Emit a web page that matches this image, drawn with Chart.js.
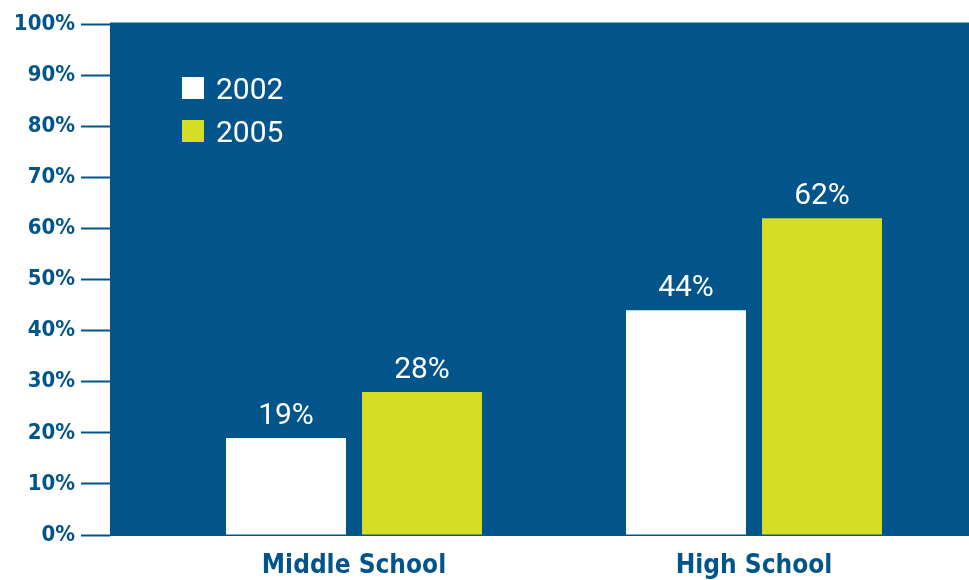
<!DOCTYPE html>
<html>
<head>
<meta charset="utf-8">
<script src="https://cdn.jsdelivr.net/npm/chart.js@4.4.1/dist/chart.umd.min.js"></script>
<style>
    html, body { margin: 0; padding: 0; background: #fff; }
    #wrap { width: 969px; height: 580px; position: relative; }
</style>
</head>
<body>
<div id="wrap"><canvas id="chart"></canvas></div>
<script>
// ------------------------
// DATA
// ------------------------

const categories = ["Middle School", "High School"];
const seriesLabels = ["2002", "2005"];
const values2002 = [19, 44];
const values2005 = [28, 62];
const yTickValues = [0, 10, 20, 30, 40, 50, 60, 70, 80, 90, 100];

const BLUE = "#02558a";
const LIME = "#d4de25";
const NARROW = "'Liberation Sans Narrow', 'DejaVu Sans Condensed', 'Roboto', sans-serif";
const PLAIN = "'Roboto', 'Liberation Sans', sans-serif";

// ------------------------
// PLUGINS
// ------------------------

// dark panel behind the plot
const panelPlugin = {
    id: "panel",
    beforeDraw(chart) {
        const { ctx, chartArea: a } = chart;
        ctx.save();
        ctx.fillStyle = BLUE;
        ctx.fillRect(a.left, a.top - 1.5, chart.width - a.left, a.bottom - a.top + 2.5);
        ctx.restore();
    }
};

// value labels above bars
const valueLabels = {
    id: "valueLabels",
    afterDatasetsDraw(chart) {
        const ctx = chart.ctx;
        ctx.save();
        ctx.fillStyle = "#ffffff";
        ctx.font = "30px " + PLAIN;
        ctx.textAlign = "center";
        ctx.textBaseline = "alphabetic";
        chart.data.datasets.forEach((ds, di) => {
            chart.getDatasetMeta(di).data.forEach((bar, i) => {
                ctx.fillText(ds.data[i].y + "%", bar.x, bar.y - 14);
            });
        });
        ctx.restore();
    }
};

// legend drawn inside the panel
const innerLegend = {
    id: "innerLegend",
    afterDraw(chart) {
        const { ctx, chartArea: a } = chart;
        ctx.save();
        ctx.font = "30px " + PLAIN;
        ctx.textBaseline = "alphabetic";
        ctx.textAlign = "left";
        chart.data.datasets.forEach((ds, i) => {
            const x = a.left + 72;
            const y = a.top + 53 + i * 43;
            ctx.fillStyle = ds.backgroundColor;
            ctx.fillRect(x, y, 22, 22);
            ctx.fillStyle = "#ffffff";
            ctx.fillText(ds.label, x + 34, y + 22);
        });
        ctx.restore();
    }
};

// ------------------------
// CHART
// ------------------------

const toPoints = vals => vals.map((v, i) => ({ x: i, y: v }));

new Chart(document.getElementById("chart"), {
    type: "bar",
    data: {
        datasets: [
            { label: seriesLabels[0], data: toPoints(values2002), backgroundColor: "#ffffff" },
            { label: seriesLabels[1], data: toPoints(values2005), backgroundColor: LIME }
        ]
    },
    options: {
        responsive: true,
        maintainAspectRatio: false,
        animation: false,
        layout: { padding: { top: 24, right: 0, bottom: 0, left: 0 } },
        categoryPercentage: 0.68,
        barPercentage: 0.882,
        plugins: {
            legend: { display: false },
            tooltip: { enabled: false }
        },
        scales: {
            x: {
                type: "linear",
                offset: false,
                min: -0.61,
                max: 1.5375,
                afterBuildTicks: s => { s.ticks = categories.map((_, i) => ({ value: i })); },
                afterFit: s => { s.height = 45; },
                grid: { display: false },
                border: { display: false },
                ticks: {
                    autoSkip: false,
                    maxRotation: 0,
                    padding: 8,
                    color: BLUE,
                    font: { family: NARROW, size: 26, weight: "bold" },
                    callback: v => categories[v]
                }
            },
            y: {
                min: 0,
                max: 100,
                afterBuildTicks: s => { s.ticks = yTickValues.map(v => ({ value: v })); },
                afterFit: s => { s.width = 110; },
                grid: {
                    drawOnChartArea: false,
                    drawTicks: true,
                    tickLength: 29,
                    tickWidth: 2,
                    tickColor: BLUE
                },
                border: { display: false },
                ticks: {
                    padding: 6,
                    color: BLUE,
                    font: { family: NARROW, size: 22, weight: "bold" },
                    callback: v => v + "%"
                }
            }
        }
    },
    plugins: [panelPlugin, valueLabels, innerLegend]
});
</script>
</body>
</html>
